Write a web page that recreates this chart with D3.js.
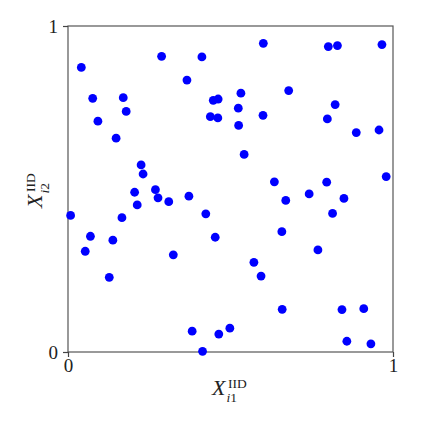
<!DOCTYPE html>
<html>
<head>
<meta charset="utf-8">
<script src="https://cdn.jsdelivr.net/npm/d3@7"></script>
<style>
  body { margin: 0; background: #fff; }
</style>
</head>
<body>
<svg></svg>
<script>
// sample points (x = X_i1, y = X_i2)
let xs = [0.041, 0.288, 0.412, 0.366, 0.076, 0.170, 0.179, 0.092, 0.148, 0.447,
          0.462, 0.438, 0.461, 0.225, 0.231, 0.601, 0.801, 0.829, 0.966, 0.532,
          0.679, 0.524, 0.600, 0.822, 0.525, 0.798, 0.887, 0.957, 0.542, 0.635,
          0.796, 0.979, 0.008, 0.205, 0.269, 0.277, 0.213, 0.310, 0.372, 0.166,
          0.424, 0.069, 0.138, 0.053, 0.453, 0.324, 0.127, 0.382, 0.464, 0.498,
          0.414, 0.670, 0.742, 0.849, 0.814, 0.658, 0.769, 0.572, 0.594, 0.659,
          0.843, 0.910, 0.858, 0.932]
let ys = [0.873, 0.907, 0.905, 0.834, 0.778, 0.780, 0.738, 0.708, 0.656, 0.772,
          0.776, 0.722, 0.718, 0.574, 0.546, 0.947, 0.937, 0.940, 0.943, 0.794,
          0.802, 0.748, 0.726, 0.759, 0.695, 0.715, 0.673, 0.681, 0.606, 0.522,
          0.521, 0.538, 0.419, 0.490, 0.498, 0.473, 0.451, 0.461, 0.478, 0.412,
          0.424, 0.355, 0.343, 0.309, 0.352, 0.298, 0.229, 0.064, 0.055, 0.073,
          0.002, 0.465, 0.485, 0.471, 0.425, 0.369, 0.313, 0.275, 0.233, 0.131,
          0.130, 0.133, 0.033, 0.025]
let ticks = [0, 1]

let width = 423,
    height = 423,
    margin = {top: 26, right: 30, bottom: 71, left: 68},
    serif = 'Liberation Serif'

let svg = d3.select('svg').attr('width', width).attr('height', height)

let x = d3.scaleLinear().domain([0, 1]).range([margin.left, width - margin.right])
let y = d3.scaleLinear().domain([0, 1]).range([height - margin.bottom, margin.top])

let points = xs.map((d, i) => ({x: d, y: ys[i]}))

// frame
svg.append('rect')
  .attr('x', x(0)).attr('y', y(1))
  .attr('width', x(1) - x(0)).attr('height', y(0) - y(1))
  .attr('fill', 'none').attr('stroke', '#555').attr('stroke-width', 1.2)

svg.append('g')
  .attr('transform', `translate(0,${y(0)})`)
  .call(d3.axisBottom(x).tickValues(ticks).tickFormat(d3.format('d')).tickSize(5).tickPadding(2))
svg.append('g')
  .attr('transform', `translate(${x(0)},0)`)
  .call(d3.axisLeft(y).tickValues(ticks).tickFormat(d3.format('d')).tickSize(5).tickPadding(5))

svg.selectAll('.domain').remove()
svg.selectAll('.tick line').attr('stroke', '#444').attr('stroke-width', 1.2)
svg.selectAll('.tick text')
  .attr('font-size', 19)
  .attr('font-family', serif)
  .attr('fill', '#222')

// points
svg.append('g').selectAll('circle')
  .data(points)
  .enter()
  .append('circle')
  .attr('cx', d => x(d.x))
  .attr('cy', d => y(d.y))
  .attr('r', 4.4)
  .attr('fill', '#0000ff')

// axis labels X_i1^IID and X_i2^IID
function mathLabel(g, sub){
  g.attr('font-family', serif).attr('fill', '#222')
  g.append('text').attr('x', 0).attr('y', 0)
    .attr('font-size', 22).attr('font-style', 'italic').text('X')
  g.append('text').attr('x', 16).attr('y', -7.5)
    .attr('font-size', 13.5).text('IID')
  let s = g.append('text').attr('x', 14.5).attr('y', 7).attr('font-size', 13.5)
  s.append('tspan').attr('font-style', 'italic').text('i')
  s.append('tspan').text(sub)
}

mathLabel(svg.append('g').attr('transform', 'translate(212,395)'), '1')
mathLabel(svg.append('g').attr('transform', 'translate(42,208) rotate(-90)'), '2')
</script>
</body>
</html>
